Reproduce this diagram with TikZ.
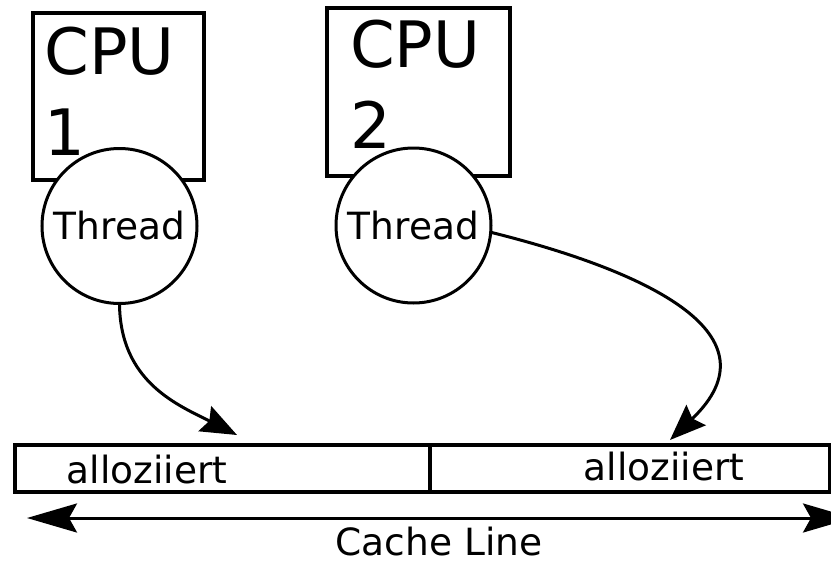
\documentclass[tikz,border=0pt]{standalone}
\usepackage{fontspec}
\setmainfont{DejaVu Sans}
\usetikzlibrary{arrows.meta}
\tikzset{
  cpubox/.style={draw, rectangle, line width=3.2pt, inner sep=0pt, outer sep=0pt, anchor=north west},
  cputext/.style={font=\fontsize{64}{80}\selectfont, inner sep=0pt, anchor=base west},
  threadnode/.style={draw, circle, fill=white, line width=3pt, inner sep=0pt, outer sep=0pt,
    minimum size=155pt, font=\fontsize{37.5}{44}\selectfont},
  cellbox/.style={draw, rectangle, line width=3.2pt, inner sep=0pt, outer sep=0pt,
    anchor=north west, minimum height=47pt},
  celltext/.style={font=\fontsize{37.5}{44}\selectfont, inner sep=0pt, anchor=base},
  feedarrow/.style={line width=3pt, -{Stealth[length=36pt, width=28pt, inset=5pt]}},
  widthspan/.style={line width=3pt,
    {Stealth[length=50pt, width=29pt, inset=8pt]}-{Stealth[length=50pt, width=29pt, inset=8pt]}},
}
\begin{document}
\begin{tikzpicture}[x=1pt, y=-1pt]
  \useasboundingbox (0,0) rectangle (831,563);
  \fill[white] (0,0) rectangle (831,563);
  \clip (0,0) rectangle (831,563);

  % processors
  \node[cpubox, minimum width=171pt, minimum height=167pt] (cpu1) at (33,13) {};
  \node[cputext] (cpu1a) at (44.5,74) {CPU};
  \node[cputext] (cpu1b) at (44.5,155) {1};
  \node[cpubox, minimum width=183pt, minimum height=168pt] (cpu2) at (327,8) {};
  \node[cputext] (cpu2a) at (350,67) {CPU};
  \node[cputext] (cpu2b) at (350,148) {2};

  % threads
  \node[threadnode] (th1) at (119.5,226) {Thread};
  \node[threadnode] (th2) at (413.5,225.5) {Thread};

  % cache line cells
  \node[cellbox, minimum width=415pt] (cellA) at (15,445) {};
  \node[cellbox, minimum width=399.5pt] (cellB) at (430,445) {};
  \node[celltext] (allocA) at (147,483) {alloziiert};
  \node[celltext] (allocB) at (664,480) {alloziiert};

  % accesses
  \coordinate (hitA) at (237,435);
  \coordinate (hitB) at (670,440);
  \draw[feedarrow] (th1.south) .. controls (120,382) and (178,405) .. (hitA);
  \draw[feedarrow] (th2.-5) .. controls (650,272) and (780,335) .. (hitB);

  % extent of the line
  \coordinate (endL) at (27,518);
  \coordinate (endR) at (853,518);
  \draw[widthspan] (endL) -- (endR);
  \node[celltext] (caption) at (439,555) {Cache Line};
\end{tikzpicture}
\end{document}
